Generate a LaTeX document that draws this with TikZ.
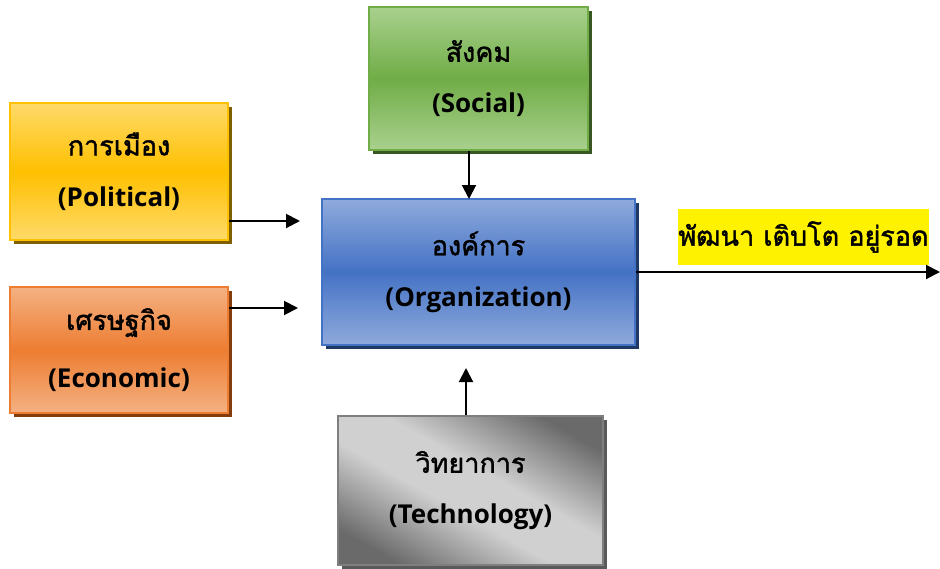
\documentclass[tikz,border=0pt]{standalone}
\usepackage{fontspec}
\setmainfont[Script=Thai,AutoFakeBold=1.5]{Loma}
\newfontfamily\latinf{Open Sans}
\usetikzlibrary{arrows.meta,shadows,calc}
\definecolor{ylight}{HTML}{FFDA6A}
\definecolor{ymid}{HTML}{FFC000}
\definecolor{yshadow}{HTML}{7F6000}
\definecolor{olight}{HTML}{F4B183}
\definecolor{omid}{HTML}{ED7D31}
\definecolor{oshadow}{HTML}{843C0C}
\definecolor{glight}{HTML}{A9D18E}
\definecolor{gmid}{HTML}{70AD47}
\definecolor{gshadow}{HTML}{385723}
\definecolor{blight}{HTML}{8FAADC}
\definecolor{bmid}{HTML}{4472C4}
\definecolor{bshadow}{HTML}{203864}
\definecolor{kdark}{HTML}{6A6A6A}
\definecolor{klight}{HTML}{D0D0D0}
\definecolor{kborder}{HTML}{7F7F7F}
\definecolor{kshadow}{HTML}{5A5A5A}
\pgfdeclareverticalshading{techshade}{100bp}{color(0bp)=(kdark); color(24bp)=(kdark); color(44bp)=(klight); color(56bp)=(klight); color(76bp)=(kdark); color(100bp)=(kdark)}
\newcommand\twolines[2]{{\fontsize{27}{32}\selectfont\bfseries #1}\\[30pt]{\latinf\bfseries\fontsize{26}{28}\selectfont #2}}
\tikzset{
  box/.style={rectangle, inner sep=0pt, align=center, line width=1.5pt, text=black},
  shadowed/.style={drop shadow={shadow xshift=4pt, shadow yshift=-4pt, fill=#1, opacity=1}},
  conn/.style={line width=2pt, -{Triangle[length=14pt,width=14pt]}},
}
\begin{document}
\begin{tikzpicture}[x=1pt,y=-1pt]
\useasboundingbox (0,0) rectangle (940,568);
\node[box, minimum width=218pt, minimum height=137pt, draw=ymid,
  top color=ylight, bottom color=ylight, middle color=ymid, shadowed=yshadow]
  (pol) at (119,171.5) {\twolines{การเมือง}{(Political)}};
\node[box, minimum width=218pt, minimum height=126pt, draw=omid,
  top color=olight, bottom color=olight, middle color=omid, shadowed=oshadow]
  (eco) at (119,350) {\twolines{เศรษฐกิจ}{(Economic)}};
\node[box, minimum width=219pt, minimum height=143pt, draw=gmid,
  top color=glight, bottom color=glight, middle color=gmid, shadowed=gshadow]
  (soc) at (478.5,78.5) {\twolines{สังคม}{(Social)}};
\node[box, minimum width=313pt, minimum height=146pt, draw=bmid,
  top color=blight, bottom color=blight, middle color=bmid, shadowed=bshadow]
  (org) at (478.5,272) {\twolines{องค์การ}{(Organization)}};
\node[box, minimum width=265pt, minimum height=149pt, draw=kborder,
  shading=techshade, shading angle=-29.4, shadowed=kshadow]
  (tec) at (470.5,490.5) {\twolines{วิทยาการ}{(Technology)}};
\node[rectangle, fill=yellow, minimum width=251pt, minimum height=56pt, inner sep=0pt,
  font=\bfseries\fontsize{27}{30}\selectfont]
  (out) at (803.5,237) {พัฒนา เติบโต อยู่รอด};
\coordinate (pa) at (300,221);
\coordinate (ea) at (298,308);
\coordinate (sa) at (469,199);
\coordinate (ta) at (466,368);
\coordinate (oa) at (940,272);
\draw[conn] (pol.east |- pa) -- (pa);
\draw[conn] (eco.east |- ea) -- (ea);
\draw[conn] (soc.south -| sa) -- (sa);
\draw[conn] (tec.north -| ta) -- (ta);
\draw[conn] (org.east |- oa) -- (oa);
\end{tikzpicture}
\end{document}
